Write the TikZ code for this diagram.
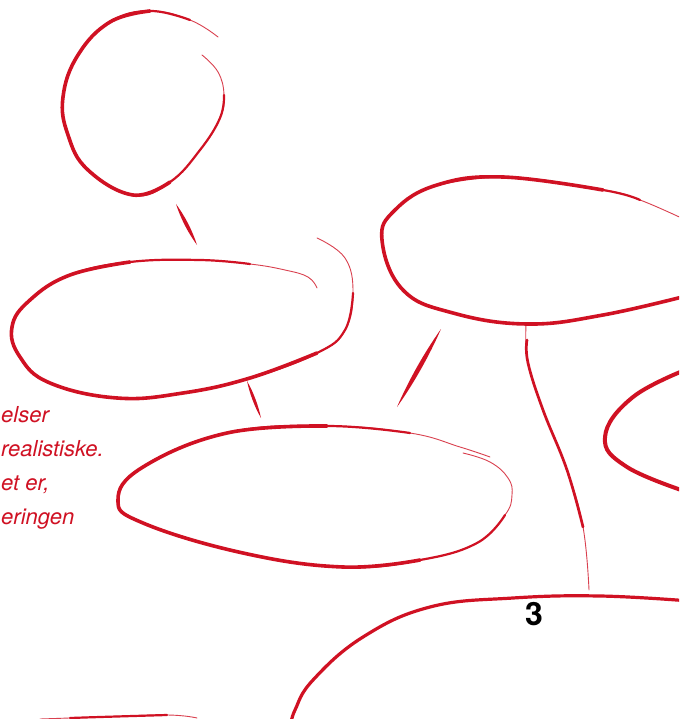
\documentclass[tikz,border=0pt]{standalone}
\usepackage{fontspec}
\newfontfamily\heros{TeX Gyre Heros}
\definecolor{inkred}{RGB}{208,17,35}
\tikzset{
  ink/.style={draw=inkred, line cap=round, line join=round},
  thin/.style={ink, line width=0.9pt, draw opacity=0.8},
  mid/.style={ink, line width=2.2pt},
  thick/.style={ink, line width=3.6pt},
  lens/.style={fill=inkred, draw=none},
  sidetext/.style={inner sep=0pt, anchor=base west, text=inkred, font=\heros\itshape\fontsize{22}{22}\selectfont},
  numtext/.style={inner sep=0pt, text=black, font=\heros\bfseries\fontsize{32}{32}\selectfont}
}
\begin{document}
\begin{tikzpicture}[x=1pt,y=-1pt]
\useasboundingbox (0,0) rectangle (679,719);
\clip (0,0) rectangle (679,719);
\fill[white] (0,0) rectangle (679,719);

% head loop
\draw[thin] plot[smooth,tension=0.7] coordinates {(218,37) (190,20) (150,11) (110,22) (78,55) (63,97) (68,135) (88,170) (133,195) (170,182) (200,150) (220,118) (224,95) (218,72) (202,55)};
\draw[mid] plot[smooth,tension=0.7] coordinates {(190,20) (150,11) (110,22) (78,55) (63,97) (68,135) (88,170) (133,195) (170,182) (200,150) (220,118) (224,95)};
\draw[thick] plot[smooth,tension=0.7] coordinates {(150,11) (110,22) (78,55) (63,97) (68,135) (88,170) (133,195) (170,182)};

% stroke below head
\fill[lens] (176,204) .. controls (185.2,216.6) and (192.2,230.2) .. (197,245) .. controls (187.8,232.4) and (180.8,218.8) .. (176,204);

% ellipse 2
\draw[thin] plot[smooth,tension=0.7] coordinates {(317,288) (308,277) (285,270) (250,264) (200,260) (130,262) (70,275) (30,300) (12,327) (20,357) (50,383) (117,398) (183,393) (250,378) (317,353) (345,330) (353,293) (345,258) (317,238)};
\draw[mid] plot[smooth,tension=0.7] coordinates {(250,264) (200,260) (130,262) (70,275) (30,300) (12,327) (20,357) (50,383) (117,398) (183,393) (250,378) (317,353) (345,330) (353,293)};
\draw[thick] plot[smooth,tension=0.7] coordinates {(130,262) (70,275) (30,300) (12,327) (20,357) (50,383) (117,398) (183,393) (250,378) (317,353)};

% stroke below ellipse 2
\fill[lens] (247,381) .. controls (253.6,392.6) and (258.2,405.0) .. (261,418) .. controls (254.4,406.4) and (249.8,394.0) .. (247,381);

% stroke between ellipses
\fill[lens] (441,329) .. controls (428.9,356.5) and (414.3,382.5) .. (397,407) .. controls (409.1,379.5) and (423.7,353.5) .. (441,329);

% ellipse 3
\draw[thin] plot[smooth,tension=0.7] coordinates {(463,453) (490,462) (508,478) (512,495) (505,515) (477,543) (420,560) (343,567) (243,553) (143,523) (118,500) (143,467) (227,433) (327,426) (410,433) (460,447) (490,457)};
\draw[mid] plot[smooth,tension=0.7] coordinates {(505,515) (477,543) (420,560) (343,567) (243,553) (143,523) (118,500) (143,467) (227,433) (327,426) (410,433)};
\draw[thick] plot[smooth,tension=0.7] coordinates {(420,560) (343,567) (243,553) (143,523) (118,500) (143,467) (227,433) (327,426)};

% ellipse 4 (top right)
\draw[thin] plot[smooth,tension=0.7] coordinates {(690,222) (640,200) (603,190) (503,177) (437,185) (395,210) (382,240) (403,290) (453,313) (527,324) (603,315) (690,295)};
\draw[mid] plot[smooth,tension=0.7] coordinates {(640,200) (603,190) (503,177) (437,185)};
\draw[thick] plot[smooth,tension=0.7] coordinates {(603,190) (503,177) (437,185) (395,210) (382,240) (403,290) (453,313) (527,324) (603,315) (690,295)};

% connector down
\draw[thin] plot[smooth,tension=0.7] coordinates {(526,325) (528,363) (543,410) (567,470) (583,527) (589,590)};
\draw[mid,line width=2.7pt] plot[smooth,tension=0.7] coordinates {(527,340) (528,363) (543,410) (567,470) (583,527)};

% ellipse 5 (right)
\draw[thick,line width=4pt] plot[smooth,tension=0.7] coordinates {(690,368) (633,397) (605,437) (627,467) (690,493)};

% bottom ellipse
\draw[thick,line width=3.2pt] plot[smooth,tension=0.7] coordinates {(291,725) (295,710) (313,680) (363,637) (430,607) (513,598) (600,596) (690,601)};

% bottom-left line
\draw[thin] plot[smooth,tension=0.7] coordinates {(40,719) (100,717) (167,715) (197,718)};
\draw[mid] plot[smooth,tension=0.7] coordinates {(70,718) (100,717) (167,715)};

% texts
\node[numtext] (n3) at (534,614) {3};
\node[sidetext] (t1) at (1,422) {elser};
\node[sidetext] (t2) at (1,456) {realistiske.};
\node[sidetext] (t3) at (1,490) {et er,};
\node[sidetext] (t4) at (1,524) {eringen};
\end{tikzpicture}
\end{document}
